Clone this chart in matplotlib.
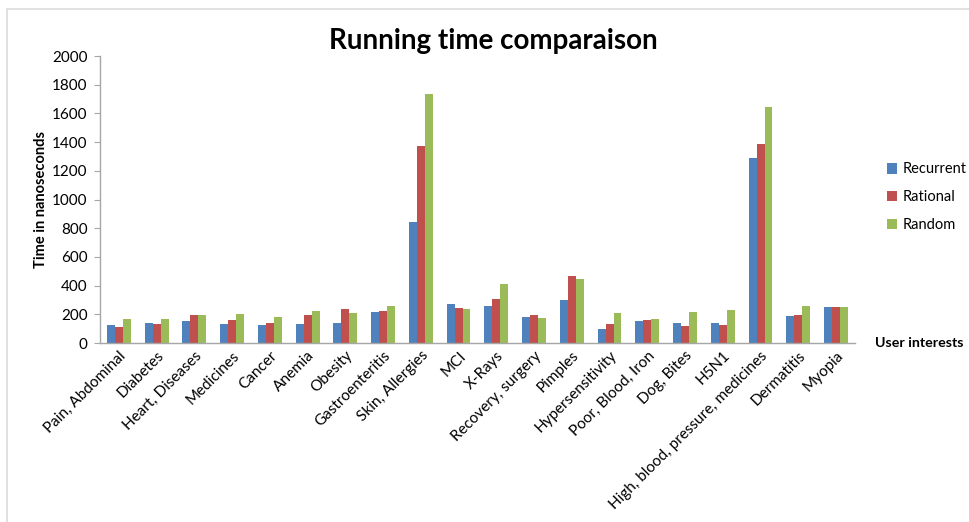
import numpy as np
import matplotlib
matplotlib.use("Agg")
import matplotlib.pyplot as plt
from matplotlib.patches import Rectangle

plt.rcParams['font.family'] = ['Lato', 'DejaVu Sans']

interests = ['Pain, Abdominal', 'Diabetes', 'Heart, Diseases', 'Medicines', 'Cancer',
             'Anemia', 'Obesity', 'Gastroenteritis', 'Skin, Allergies', 'MCI',
             'X-Rays', 'Recovery, surgery', 'Pimples', 'Hypersensitivity',
             'Poor, Blood, Iron', 'Dog, Bites', 'H5N1',
             'High, blood, pressure, medicines', 'Dermatitis', 'Myopia']
recurrent = [123, 139, 155, 135, 128, 135, 139, 216, 840, 271,
             255, 179, 302, 97, 151, 139, 139, 1288, 188, 248]
rational = [111, 135, 195, 162, 139, 195, 239, 220, 1374, 244,
            306, 197, 464, 132, 158, 121, 128, 1387, 195, 253]
random_t = [167, 167, 195, 204, 179, 220, 209, 255, 1733, 237,
            413, 172, 445, 209, 167, 213, 232, 1647, 260, 253]

series = [('Recurrent', recurrent, '#4F81BD'),
          ('Rational', rational, '#C0504D'),
          ('Random', random_t, '#9BBB59')]

fig = plt.figure(figsize=(9.7, 5.22), dpi=100)
ax = fig.add_axes([0.1031, 0.3429, 0.7783, 0.5498])

x = np.arange(len(interests))
w = 0.21
for i, (name, vals, col) in enumerate(series):
    ax.bar(x + (i - 1) * w, vals, width=w, color=col, label=name, zorder=2)

ax.set_xlim(-0.5, len(interests) - 0.5)
ax.set_ylim(0, 2000)
ax.set_yticks(range(0, 2001, 200))
ax.tick_params(axis='y', length=4, color='#a6a6a6', labelsize=11, pad=5)
ax.tick_params(axis='x', length=0, labelsize=11, pad=4)
ax.set_xticks(x)
ax.set_xticklabels(interests, rotation=45, ha='right', rotation_mode='anchor')

for s in ['top', 'right']:
    ax.spines[s].set_visible(False)
for s in ['left', 'bottom']:
    ax.spines[s].set_color('#a6a6a6')
    ax.spines[s].set_linewidth(1.0)

ax.set_ylabel('Time in nanoseconds', fontsize=10.5, fontweight='bold')
ax.yaxis.set_label_coords(-0.069, 0.5)
fig.text(0.5082, 0.921, 'Running time comparaison', fontsize=20, fontweight='bold',
         ha='center', va='center')
fig.text(0.902, 0.343, 'User interests', fontsize=10.3, fontweight='bold',
         ha='left', va='center')

fig.legend(loc='upper left', bbox_to_anchor=(0.908, 0.70), frameon=False,
           fontsize=10.5, handlelength=0.72, handleheight=0.72,
           handletextpad=0.35, labelspacing=0.95, borderaxespad=0)

# light frame around the chart
fig.patches.append(Rectangle((7 / 970, -0.1), 1.2, 1 - 8.5 / 522 + 0.1,
                             transform=fig.transFigure, fill=False,
                             edgecolor='#dcdcdc', linewidth=1.2))

fig.savefig('out.png', dpi=100, facecolor='white')
